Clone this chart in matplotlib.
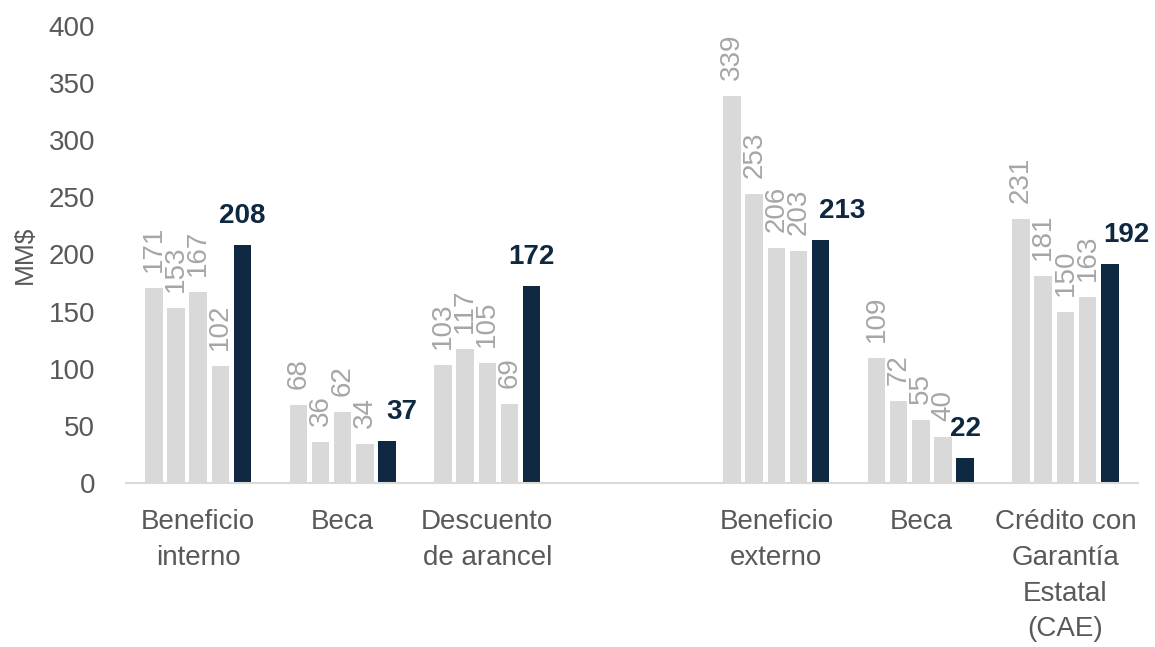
import numpy as np
import matplotlib
matplotlib.use("Agg")
import matplotlib.pyplot as plt

plt.rcParams['font.family'] = ['Liberation Sans', 'DejaVu Sans']

categories = ["Beneficio\ninterno", "Beca", "Descuento\nde arancel", "",
              "Beneficio\nexterno", "Beca", "Crédito con\nGarantía\nEstatal\n(CAE)"]
s1 = [171, 68, 103, np.nan, 339, 109, 231]
s2 = [153, 36, 117, np.nan, 253, 72, 181]
s3 = [167, 62, 105, np.nan, 206, 55, 150]
s4 = [102, 34, 69, np.nan, 203, 40, 163]
s5 = [208, 37, 172, np.nan, 213, 22, 192]
series = [s1, s2, s3, s4, s5]
yticks = [0, 50, 100, 150, 200, 250, 300, 350, 400]

# horizontal nudge (pixels) of the highlighted labels, as in the reference
navy_label_dx = [0, 15, 0, 0, 21, 0, 17]

GRAY = "#D9D9D9"
NAVY = "#0E2841"
LBL_GRAY = "#A6A6A6"
TXT = "#595959"

fig = plt.figure(figsize=(11.55, 6.47), dpi=100)
ax = fig.add_axes([0.109, 0.2535, 0.876, 0.7063])

x = np.arange(len(categories))
pitch = 0.1535
width = 0.121
for i, s in enumerate(series):
    vals = np.array(s, dtype=float)
    pos = x + (i - 2) * pitch
    last = (i == 4)
    ax.bar(pos, vals, width=width, color=NAVY if last else GRAY, zorder=2)
    for j, (p, v) in enumerate(zip(pos, vals)):
        if np.isnan(v):
            continue
        if last:
            ax.annotate(f"{int(v)}", (p, v), xytext=(navy_label_dx[j], 16),
                        textcoords="offset pixels",
                        ha="center", va="bottom", fontsize=20, fontweight="bold",
                        color=NAVY)
        else:
            ax.annotate(f"{int(v)}", (p, v), xytext=(0, 16), textcoords="offset pixels",
                        ha="center", va="bottom", rotation=90, fontsize=20,
                        color=LBL_GRAY)

ax.set_xlim(-0.5, len(categories) - 0.5)
ax.set_ylim(0, 400)
ax.set_yticks(yticks)
ax.set_xticks(x)
ax.set_xticklabels(categories, fontsize=20, color=TXT, linespacing=1.48)
ax.tick_params(axis='y', labelsize=20, labelcolor=TXT, length=0, pad=22)
ax.tick_params(axis='x', length=0, pad=19)
for sp in ["top", "right", "left"]:
    ax.spines[sp].set_visible(False)
ax.spines["bottom"].set_color("#D9D9D9")
ax.spines["bottom"].set_linewidth(1.5)
ax.set_ylabel("MM$", fontsize=19, color=TXT)
ax.yaxis.set_label_coords(-0.088, 0.5)

fig.savefig("out.png", dpi=100)
